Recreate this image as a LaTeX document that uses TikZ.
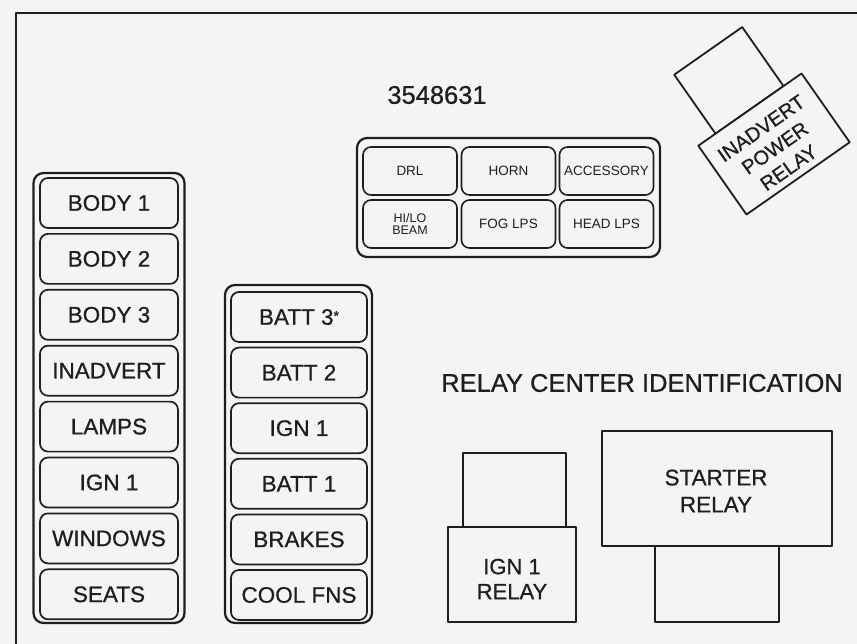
\documentclass[tikz,border=0pt]{standalone}
\usepackage{fontspec}
\setmainfont{Liberation Sans}[BoldFont={Liberation Sans},BoldFeatures={FakeBold=0.7}]
\definecolor{bg}{RGB}{244,244,244}
\definecolor{ink}{RGB}{30,30,30}
\begin{document}
\begin{tikzpicture}[x=1pt,y=-1pt,line join=round,
  frame/.style={draw=ink,line width=2.6pt},
  holder/.style={draw=ink,line width=2.2pt,rounded corners=10pt,inner sep=0pt},
  fuse/.style={draw=ink,line width=1.7pt,rounded corners=8pt,minimum width=138pt,minimum height=50pt,inner sep=0pt,text=ink,font=\fontsize{22.5}{24}\selectfont\bfseries},
  mfuse/.style={fuse,minimum width=136pt},
  sfuse/.style={draw=ink,line width=1.6pt,rounded corners=8pt,minimum width=94pt,minimum height=48pt,inner sep=0pt,text=ink,align=center,font=\fontsize{13.5}{13}\selectfont},
  relay/.style={draw=ink,line width=1.8pt,fill=bg},
  lbl/.style={text=ink,align=center,inner sep=0pt,font=\fontsize{22.5}{27}\selectfont\bfseries}]
\fill[bg] (0,0) rectangle (857,644);
\useasboundingbox (0,0) rectangle (857,644);
\draw[frame] (16,644) -- (16,13) -- (857,13);

% left holder
\node[holder,minimum width=151pt,minimum height=450pt] (lh) at (109,398) {};
\foreach \t [count=\i from 0] in {BODY 1,BODY 2,BODY 3,INADVERT,LAMPS,IGN 1,WINDOWS,SEATS}
  \node[fuse] (l\i) at (109,203+55.9*\i) {\t};

% middle holder
\node[holder,minimum width=147pt,minimum height=338pt] (mh) at (298.5,454) {};
\node[mfuse] (m0) at (299,317) {BATT 3{\fontsize{14}{14}\selectfont\raisebox{4pt}{*}}};
\foreach \t [count=\i from 1] in {BATT 2,IGN 1,BATT 1,BRAKES,COOL FNS}
  \node[mfuse] (m\i) at (299,317+55.6*\i) {\t};

% top relay block
\node[holder,minimum width=303pt,minimum height=119pt] (th) at (508.5,197.5) {};
\node[sfuse] (t1) at (410,171) {DRL};
\node[sfuse] (t2) at (508.5,171) {HORN};
\node[sfuse] (t3) at (606.5,171) {ACCESSORY};
\node[sfuse,font=\fontsize{12.5}{12}\selectfont] (t4) at (410,224) {HI/LO\\BEAM};
\node[sfuse] (t5) at (508.5,224) {FOG LPS};
\node[sfuse] (t6) at (606.5,224) {HEAD LPS};

\node[text=ink,inner sep=0pt,font=\fontsize{25.5}{26}\selectfont\bfseries] (num) at (437,95) {3548631};
\node[text=ink,inner sep=0pt,font=\fontsize{25.5}{26}\selectfont\bfseries] (title) at (642,383) {RELAY CENTER IDENTIFICATION};

% inadvert power relay
\begin{scope}[shift={(774,144)},rotate=35]
  \draw[relay] (-42,-42) rectangle (41,-114);
  \draw[relay] (-63,-42) rectangle (63,42);
\end{scope}
\node[lbl,rotate=35,font=\fontsize{20}{24}\selectfont\bfseries] (ipr) at (775,148) {INADVERT\\POWER\\RELAY};

% ign 1 relay
\draw[relay] (463,453) rectangle (566,527);
\draw[relay] (448,527) rectangle (576,622);
\node[lbl,font=\fontsize{22}{25}\selectfont\bfseries] (ign) at (512,579) {IGN 1\\RELAY};

% starter relay
\draw[relay] (655,546) rectangle (779,622);
\draw[relay] (602,431) rectangle (832,546);
\node[lbl] (st) at (716,491) {STARTER\\RELAY};
\end{tikzpicture}
\end{document}
